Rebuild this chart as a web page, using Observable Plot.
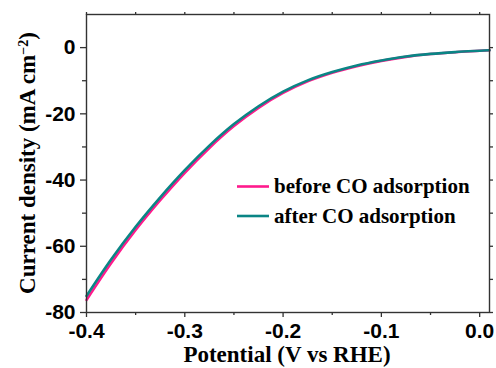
<!DOCTYPE html>
<html><head><meta charset="utf-8">
<script src="https://cdn.jsdelivr.net/npm/d3@7"></script>
<script src="https://cdn.jsdelivr.net/npm/@observablehq/plot@0.6"></script>
<style>body{margin:0;background:#fff}</style>
</head><body><div id="chart"></div>
<script>
const potential = [-0.4,-0.375,-0.35,-0.325,-0.3,-0.275,-0.25,-0.225,-0.2,-0.175,-0.15,-0.125,-0.1,-0.075,-0.05,-0.025,0,0.01];
const beforeCO = [-76.2,-65.1,-55.1,-46.1,-37.8,-30.3,-23.7,-18.2,-13.7,-10.2,-7.6,-5.6,-4.0,-2.8,-1.95,-1.38,-0.97,-0.8];
const afterCO  = [-75.0,-64.0,-54.1,-45.2,-37.0,-29.6,-23.1,-17.7,-13.3,-9.9,-7.4,-5.4,-3.9,-2.7,-1.9,-1.35,-0.95,-0.8];
const seriesNames = ["before CO adsorption","after CO adsorption"];
const seriesColors = ["#ff1a8c","#0a8585"];
const xMajor = [-0.4,-0.3,-0.2,-0.1,0.0];
const xMinor = [-0.35,-0.25,-0.15,-0.05];
const yMajor = [0,-20,-40,-60,-80];
const yMinor = [-10,-30,-50,-70];
const xTitle = "Potential (V vs RHE)";
const yTitle = ["Current density (mA cm","−2",")"];

const rows = [];
[beforeCO, afterCO].forEach((vals, s) => vals.forEach((v, i) => rows.push({potential: potential[i], value: v, series: seriesNames[s]})));

const sans = "'Liberation Sans', Arial, sans-serif";
const serif = "'Liberation Serif', 'Times New Roman', serif";
const noLabel = () => "";

const plot = Plot.plot({
  width: 496, height: 368,
  marginLeft: 86, marginRight: 7, marginTop: 14, marginBottom: 56,
  x: {domain: [-0.4, 0.01], label: null},
  y: {domain: [-80, 10], label: null},
  color: {domain: seriesNames, range: seriesColors},
  style: {fontFamily: sans, fontWeight: "bold", fontSize: "21px", color: "#000", background: "#fff"},
  marks: [
    Plot.axisX(xMajor, {tickSize: 5, tickPadding: 6, tickFormat: d => d.toFixed(1), label: null, stroke: "#333", strokeWidth: 1.3}),
    Plot.axisX(xMinor, {tickSize: 3, tickFormat: noLabel, label: null, stroke: "#333", strokeWidth: 1.3}),
    Plot.axisX([...xMajor, ...xMinor], {anchor: "top", tickSize: 3, tickFormat: noLabel, label: null, stroke: "#333", strokeWidth: 1.3}),
    Plot.axisY(yMajor, {tickSize: 6, tickPadding: 5, tickFormat: d => String(d), label: null, stroke: "#333", strokeWidth: 1.3}),
    Plot.axisY(yMinor, {tickSize: 4, tickFormat: noLabel, label: null, stroke: "#333", strokeWidth: 1.3}),
    Plot.axisY([...yMajor, ...yMinor], {anchor: "right", tickSize: 3, tickFormat: noLabel, label: null, stroke: "#333", strokeWidth: 1.3}),
    Plot.line(rows, {x: "potential", y: "value", z: "series", stroke: "series", strokeWidth: 2.6, curve: "monotone-x"}),
    Plot.frame({stroke: "#333", strokeWidth: 1.4})
  ]
});
document.getElementById("chart").appendChild(plot);

const svg = d3.select(plot);
const yt = svg.append("text")
  .attr("transform", "translate(35,163) rotate(-90)")
  .attr("text-anchor", "middle")
  .style("font-family", serif).style("font-size", "23px").style("font-weight", "bold").attr("fill", "#000");
yt.append("tspan").text(yTitle[0]);
yt.append("tspan").attr("baseline-shift", "super").style("font-size", "14px").text(yTitle[1]);
yt.append("tspan").text(yTitle[2]);

svg.append("text").attr("x", 287).attr("y", 362).attr("text-anchor", "middle")
  .style("font-family", serif).style("font-size", "23px").style("font-weight", "bold").attr("fill", "#000")
  .text(xTitle);

seriesNames.forEach((name, i) => {
  const y = 186.5 + i * 29.5;
  svg.append("line").attr("x1", 237).attr("x2", 269).attr("y1", y).attr("y2", y)
    .attr("stroke", seriesColors[i]).attr("stroke-width", 2.6);
  svg.append("text").attr("x", 274).attr("y", y + 6.5).attr("text-anchor", "start")
    .style("font-family", serif).style("font-size", "21px").style("font-weight", "bold").attr("fill", "#000")
    .text(name);
});
</script>
</body></html>
